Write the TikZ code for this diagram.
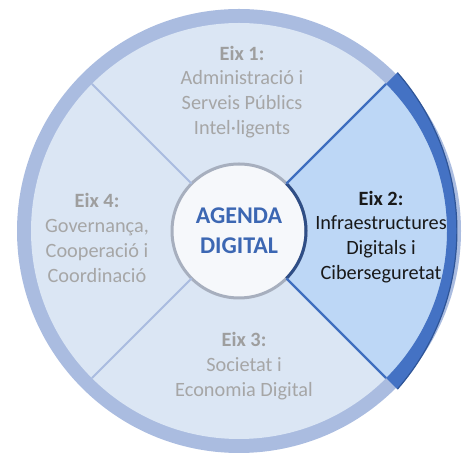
\documentclass[tikz,border=0pt]{standalone}
\usepackage{fontspec}
\setmainfont{Carlito}
\usetikzlibrary{calc}
\definecolor{discfill}{HTML}{DBE6F4}
\definecolor{ringgray}{HTML}{AABCE0}
\definecolor{sectfill}{HTML}{BDD7F6}
\definecolor{sectline}{HTML}{3F6EBF}
\definecolor{ringdark}{HTML}{4472C4}
\definecolor{ringedge}{HTML}{2F5597}
\definecolor{hubfill}{HTML}{F6F8FB}
\definecolor{hubline}{HTML}{A7AFBE}
\definecolor{hubdark}{HTML}{2F4E86}
\definecolor{txtgray}{HTML}{A6A6A6}
\definecolor{titlegray}{HTML}{9E9E9E}
\definecolor{agendablue}{HTML}{3C67B3}
\tikzset{
  axislabel/.style={align=center, inner sep=0pt, font=\fontsize{20.3}{24.8}\selectfont},
  grayaxis/.style={axislabel, text=txtgray},
  grayline/.style={draw=ringgray, line width=2pt},
  blueline/.style={draw=sectline, line width=2.2pt},
}
\begin{document}
\begin{tikzpicture}[x=1pt,y=1pt]
\useasboundingbox (0,0) rectangle (465,454);
\coordinate (C) at (239,223);
% outer ring and disc
\fill[ringgray] (C) circle[radius=222];
\fill[discfill] (C) circle[radius=208];
% highlighted sector (Eix 2)
\fill[sectfill] (C) -- ($(C)+(45:208)$) arc[start angle=45, end angle=-45, radius=208] -- cycle;
% dark ring for Eix 2
\fill[ringdark] ($(C)+(45:208)$) -- ($(C)+(45:224)$)
  arc[start angle=41.2, end angle=-41.2, radius=240.3]
  -- ($(C)+(-45:208)$) arc[start angle=-45, end angle=45, radius=208] -- cycle;
\draw[ringedge, line width=1.2pt] ($(C)+(45:224)$)
  arc[start angle=41.2, end angle=-41.2, radius=240.3];
% ring end coordinates
\coordinate (r45) at ($(C)+(45:208)$);
\coordinate (r135) at ($(C)+(135:208)$);
\coordinate (r225) at ($(C)+(225:208)$);
\coordinate (r315) at ($(C)+(-45:208)$);
% hub
\node[circle, minimum size=134pt, inner sep=0pt, outer sep=0pt, fill=hubfill,
      draw=hubline, line width=3pt, align=center, text=agendablue,
      font=\fontsize{24}{30}\selectfont\bfseries] (hub) at (C) {AGENDA\\DIGITAL};
\draw[hubdark, line width=3pt] (hub.-45) arc[start angle=-45, end angle=45, radius=67];
% dividers
\draw[grayline] (hub.135) -- (r135);
\draw[grayline] (hub.225) -- (r225);
\draw[blueline] (hub.45) -- (r45);
\draw[blueline] (hub.-45) -- (r315);
% labels
\node[grayaxis] (eix1) at (242,362) {\textcolor{titlegray}{\bfseries Eix 1:}\\Administració i\\Serveis Públics\\Intel·ligents};
\node[axislabel, text=black!90] (eix2) at (381,217) {\textbf{Eix 2:}\\Infraestructures\\Digitals i\\Ciberseguretat};
\node[grayaxis] (eix3) at (244,88) {\textcolor{titlegray}{\bfseries Eix 3:}\\Societat i\\Economia Digital};
\node[grayaxis] (eix4) at (97,216) {\textcolor{titlegray}{\bfseries Eix 4:}\\Governança,\\Cooperació i\\Coordinació};
\end{tikzpicture}
\end{document}
